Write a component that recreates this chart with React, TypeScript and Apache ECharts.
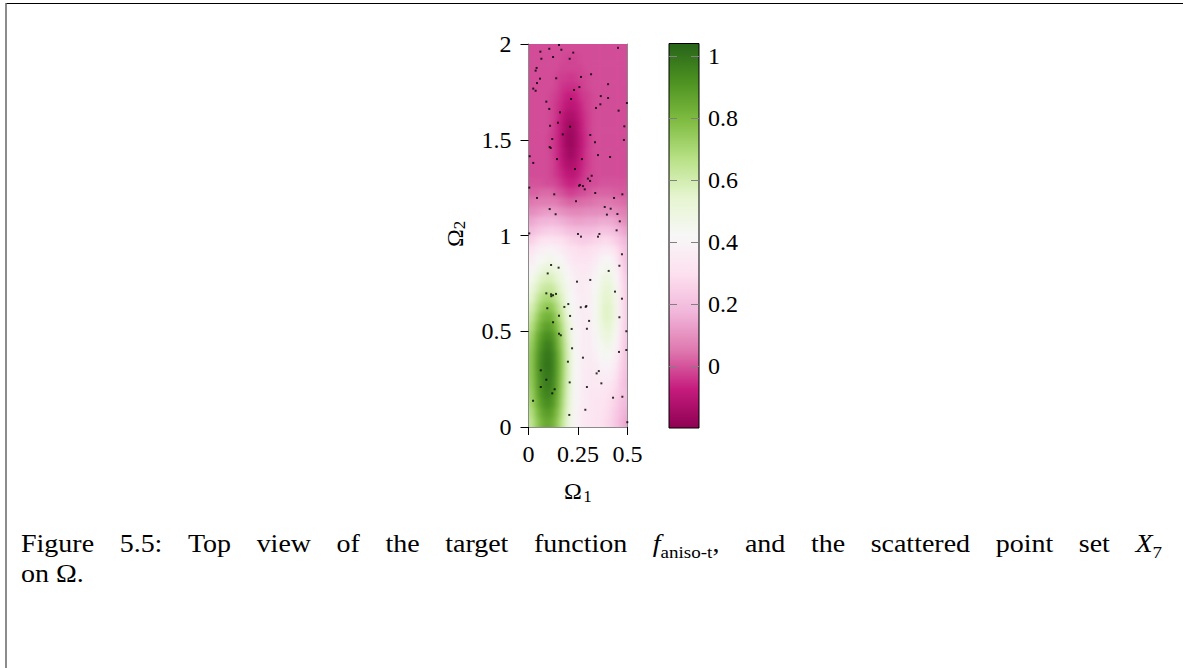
import React, { useEffect, useRef } from "react";
import * as echarts from "echarts";

// Cell centres of the sampled target function on Omega = [0, 0.5] x [0, 2]
const xCenters = [
  0.0125, 0.0375, 0.0625, 0.0875, 0.1125, 0.1375, 0.1625, 0.1875, 0.2125, 0.2375,
  0.2625, 0.2875, 0.3125, 0.3375, 0.3625, 0.3875, 0.4125, 0.4375, 0.4625, 0.4875,
];
const yCenters = [
  1.975, 1.925, 1.875, 1.825, 1.775, 1.725, 1.675, 1.625, 1.575, 1.525,
  1.475, 1.425, 1.375, 1.325, 1.275, 1.225, 1.175, 1.125, 1.075, 1.025,
  0.975, 0.925, 0.875, 0.825, 0.775, 0.725, 0.675, 0.625, 0.575, 0.525,
  0.475, 0.425, 0.375, 0.325, 0.275, 0.225, 0.175, 0.125, 0.075, 0.025,
];

// f_aniso-t values, one row per entry of yCenters (top to bottom)
const fieldRows: number[][] = [
  [-0.01, -0.01, -0.01, -0.01, -0.01, -0.01, -0.01, -0.01, -0.01, -0.01, -0.01, -0.01, -0.01, -0.01, -0.01, -0.01, -0.01, -0.01, -0.01, -0.01],
  [-0.01, -0.01, -0.01, -0.01, -0.01, -0.01, -0.01, -0.02, -0.02, -0.02, -0.01, -0.01, -0.01, -0.01, -0.01, -0.01, -0.01, -0.01, -0.01, -0.01],
  [-0.01, -0.01, -0.01, -0.01, -0.01, -0.01, -0.02, -0.02, -0.02, -0.02, -0.02, -0.01, -0.01, -0.01, -0.01, -0.01, -0.01, -0.01, -0.01, -0.01],
  [-0.01, -0.01, -0.01, -0.01, -0.01, -0.02, -0.03, -0.03, -0.04, -0.03, -0.02, -0.02, -0.01, -0.01, -0.01, -0.01, -0.01, -0.01, -0.01, -0.01],
  [-0.01, -0.01, -0.01, -0.01, -0.01, -0.02, -0.04, -0.05, -0.05, -0.05, -0.03, -0.02, -0.01, -0.01, -0.01, -0.01, -0.01, -0.01, -0.01, -0.01],
  [-0.01, -0.01, -0.01, -0.01, -0.02, -0.03, -0.05, -0.07, -0.08, -0.07, -0.04, -0.03, -0.02, -0.01, -0.01, -0.01, -0.01, -0.01, -0.01, -0.01],
  [-0.01, -0.01, -0.01, -0.01, -0.02, -0.04, -0.06, -0.09, -0.10, -0.09, -0.06, -0.03, -0.02, -0.01, -0.01, -0.01, -0.01, -0.01, -0.01, -0.01],
  [-0.01, -0.01, -0.01, -0.01, -0.02, -0.04, -0.08, -0.12, -0.13, -0.11, -0.07, -0.04, -0.02, -0.01, -0.01, -0.01, -0.01, -0.01, -0.01, -0.01],
  [-0.01, -0.01, -0.01, -0.01, -0.02, -0.05, -0.09, -0.14, -0.16, -0.13, -0.08, -0.04, -0.02, -0.01, -0.01, -0.01, -0.01, -0.01, -0.01, -0.01],
  [-0.01, -0.01, -0.01, -0.01, -0.03, -0.05, -0.10, -0.15, -0.17, -0.14, -0.09, -0.05, -0.02, -0.01, -0.01, -0.01, -0.01, -0.01, -0.01, -0.01],
  [-0.01, -0.01, -0.01, -0.01, -0.03, -0.05, -0.10, -0.15, -0.17, -0.14, -0.09, -0.05, -0.02, -0.01, -0.01, -0.01, -0.01, -0.01, -0.01, -0.01],
  [-0.01, -0.01, -0.01, -0.01, -0.02, -0.05, -0.09, -0.14, -0.16, -0.13, -0.08, -0.04, -0.02, -0.01, -0.01, -0.01, -0.01, -0.01, -0.01, -0.01],
  [-0.01, -0.01, -0.01, -0.01, -0.02, -0.04, -0.08, -0.12, -0.13, -0.11, -0.07, -0.04, -0.02, -0.01, -0.01, -0.01, -0.01, -0.01, -0.01, -0.01],
  [-0.01, -0.01, -0.01, -0.01, -0.02, -0.04, -0.06, -0.09, -0.10, -0.09, -0.06, -0.03, -0.02, -0.01, -0.01, -0.01, -0.01, -0.01, -0.01, -0.01],
  [0.00, 0.00, 0.00, -0.01, -0.01, -0.02, -0.04, -0.06, -0.07, -0.06, -0.04, -0.02, -0.01, -0.01, 0.00, 0.00, 0.00, 0.00, 0.00, 0.00],
  [0.02, 0.02, 0.03, 0.03, 0.03, 0.01, 0.00, -0.02, -0.03, -0.02, -0.01, 0.00, 0.01, 0.02, 0.02, 0.02, 0.02, 0.01, 0.01, 0.01],
  [0.05, 0.06, 0.06, 0.06, 0.06, 0.06, 0.04, 0.03, 0.02, 0.03, 0.03, 0.04, 0.04, 0.05, 0.05, 0.05, 0.05, 0.04, 0.04, 0.03],
  [0.09, 0.10, 0.11, 0.12, 0.12, 0.11, 0.10, 0.09, 0.08, 0.08, 0.08, 0.09, 0.09, 0.09, 0.09, 0.09, 0.09, 0.08, 0.07, 0.06],
  [0.14, 0.16, 0.17, 0.17, 0.18, 0.17, 0.16, 0.15, 0.14, 0.13, 0.13, 0.14, 0.14, 0.14, 0.15, 0.15, 0.15, 0.13, 0.11, 0.09],
  [0.19, 0.21, 0.23, 0.24, 0.25, 0.24, 0.23, 0.21, 0.20, 0.19, 0.19, 0.19, 0.19, 0.20, 0.21, 0.21, 0.20, 0.18, 0.16, 0.13],
  [0.25, 0.28, 0.31, 0.32, 0.32, 0.31, 0.30, 0.28, 0.26, 0.25, 0.24, 0.24, 0.25, 0.26, 0.27, 0.28, 0.27, 0.24, 0.21, 0.17],
  [0.31, 0.35, 0.38, 0.39, 0.40, 0.38, 0.36, 0.33, 0.31, 0.30, 0.29, 0.29, 0.30, 0.31, 0.33, 0.35, 0.34, 0.30, 0.25, 0.20],
  [0.36, 0.40, 0.43, 0.45, 0.46, 0.43, 0.41, 0.37, 0.34, 0.32, 0.32, 0.32, 0.33, 0.35, 0.38, 0.41, 0.40, 0.35, 0.27, 0.20],
  [0.40, 0.45, 0.49, 0.52, 0.52, 0.49, 0.46, 0.41, 0.37, 0.35, 0.34, 0.34, 0.35, 0.39, 0.43, 0.46, 0.45, 0.39, 0.30, 0.21],
  [0.45, 0.51, 0.56, 0.58, 0.58, 0.54, 0.50, 0.44, 0.40, 0.36, 0.35, 0.35, 0.37, 0.41, 0.46, 0.50, 0.49, 0.42, 0.32, 0.23],
  [0.49, 0.56, 0.61, 0.63, 0.63, 0.59, 0.53, 0.47, 0.41, 0.37, 0.35, 0.36, 0.38, 0.42, 0.49, 0.53, 0.52, 0.45, 0.34, 0.24],
  [0.53, 0.61, 0.67, 0.70, 0.69, 0.64, 0.57, 0.49, 0.42, 0.38, 0.36, 0.36, 0.38, 0.44, 0.50, 0.55, 0.54, 0.46, 0.35, 0.24],
  [0.58, 0.66, 0.73, 0.76, 0.76, 0.69, 0.61, 0.52, 0.44, 0.39, 0.36, 0.36, 0.39, 0.44, 0.51, 0.56, 0.55, 0.47, 0.35, 0.24],
  [0.62, 0.71, 0.79, 0.82, 0.82, 0.74, 0.65, 0.55, 0.45, 0.39, 0.37, 0.36, 0.38, 0.44, 0.51, 0.56, 0.55, 0.47, 0.35, 0.24],
  [0.66, 0.76, 0.84, 0.88, 0.87, 0.79, 0.69, 0.57, 0.47, 0.40, 0.37, 0.36, 0.38, 0.43, 0.49, 0.54, 0.53, 0.45, 0.34, 0.24],
  [0.70, 0.81, 0.89, 0.93, 0.92, 0.84, 0.72, 0.59, 0.48, 0.41, 0.37, 0.36, 0.37, 0.41, 0.47, 0.51, 0.50, 0.43, 0.32, 0.23],
  [0.73, 0.84, 0.92, 0.97, 0.96, 0.86, 0.74, 0.61, 0.49, 0.41, 0.37, 0.36, 0.37, 0.40, 0.44, 0.47, 0.46, 0.40, 0.31, 0.22],
  [0.75, 0.86, 0.95, 0.99, 0.98, 0.89, 0.76, 0.62, 0.50, 0.42, 0.37, 0.36, 0.36, 0.38, 0.41, 0.44, 0.43, 0.37, 0.29, 0.21],
  [0.75, 0.87, 0.96, 1.00, 0.99, 0.89, 0.77, 0.62, 0.50, 0.42, 0.37, 0.36, 0.35, 0.36, 0.39, 0.40, 0.39, 0.35, 0.27, 0.21],
  [0.75, 0.86, 0.95, 0.99, 0.98, 0.89, 0.76, 0.62, 0.50, 0.42, 0.37, 0.35, 0.34, 0.35, 0.36, 0.37, 0.36, 0.32, 0.25, 0.20],
  [0.74, 0.85, 0.94, 0.98, 0.97, 0.88, 0.75, 0.61, 0.49, 0.41, 0.37, 0.35, 0.34, 0.34, 0.34, 0.34, 0.33, 0.29, 0.23, 0.19],
  [0.72, 0.83, 0.92, 0.96, 0.95, 0.86, 0.74, 0.60, 0.49, 0.41, 0.37, 0.35, 0.33, 0.33, 0.33, 0.32, 0.30, 0.27, 0.23, 0.20],
  [0.70, 0.81, 0.89, 0.93, 0.92, 0.84, 0.72, 0.59, 0.48, 0.41, 0.37, 0.35, 0.33, 0.32, 0.32, 0.30, 0.28, 0.25, 0.21, 0.18],
  [0.67, 0.77, 0.85, 0.89, 0.88, 0.80, 0.70, 0.57, 0.47, 0.40, 0.36, 0.34, 0.33, 0.32, 0.31, 0.29, 0.27, 0.23, 0.20, 0.16],
  [0.64, 0.74, 0.81, 0.85, 0.84, 0.77, 0.67, 0.56, 0.46, 0.40, 0.36, 0.34, 0.33, 0.31, 0.31, 0.28, 0.26, 0.22, 0.18, 0.14],
];

// Scattered point set X_7 as [Omega_1, Omega_2]
const pointSet: [number, number][] = [
  [0.154, 1.995], [0.060, 1.960], [0.105, 1.975], [0.166, 1.970], [0.226, 1.955], [0.452, 1.980],
  [0.065, 1.923], [0.124, 1.932], [0.208, 1.923], [0.041, 1.875], [0.036, 1.861], [0.058, 1.819],
  [0.140, 1.821], [0.043, 1.796], [0.265, 1.828], [0.316, 1.842], [0.402, 1.790], [0.024, 1.767],
  [0.036, 1.756], [0.230, 1.760], [0.257, 1.775], [0.365, 1.728], [0.402, 1.718], [0.215, 1.713],
  [0.090, 1.699], [0.497, 1.692], [0.363, 1.685], [0.105, 1.661], [0.341, 1.666], [0.455, 1.652],
  [0.159, 1.643], [0.109, 1.573], [0.149, 1.589], [0.210, 1.568], [0.484, 1.570], [0.173, 1.528],
  [0.312, 1.525], [0.120, 1.504], [0.336, 1.487], [0.482, 1.499], [0.107, 1.462], [0.112, 1.457],
  [0.006, 1.414], [0.144, 1.399], [0.270, 1.399], [0.351, 1.420], [0.412, 1.410], [0.024, 1.379],
  [0.235, 1.347], [0.319, 1.312], [0.300, 1.297], [0.311, 1.285], [0.255, 1.260], [0.260, 1.264],
  [0.275, 1.258], [0.284, 1.241], [0.004, 1.250], [0.130, 1.215], [0.337, 1.222], [0.474, 1.215],
  [0.043, 1.196], [0.432, 1.196], [0.240, 1.179], [0.107, 1.138], [0.385, 1.149], [0.415, 1.140],
  [0.137, 1.111], [0.396, 1.109], [0.449, 1.112], [0.461, 1.074], [0.445, 1.027], [0.004, 1.011],
  [0.250, 1.008], [0.358, 1.008], [0.265, 0.994], [0.351, 0.994], [0.472, 0.902], [0.114, 0.846],
  [0.152, 0.832], [0.459, 0.842], [0.405, 0.815], [0.097, 0.802], [0.312, 0.768], [0.245, 0.759],
  [0.437, 0.707], [0.090, 0.698], [0.114, 0.693], [0.124, 0.688], [0.139, 0.695], [0.115, 0.683],
  [0.472, 0.670], [0.201, 0.642], [0.181, 0.627], [0.292, 0.632], [0.289, 0.627], [0.264, 0.625],
  [0.095, 0.620], [0.154, 0.581], [0.210, 0.580], [0.459, 0.573], [0.124, 0.547], [0.306, 0.554],
  [0.218, 0.512], [0.295, 0.513], [0.494, 0.500], [0.154, 0.487], [0.163, 0.479], [0.220, 0.411],
  [0.457, 0.392], [0.494, 0.402], [0.275, 0.362], [0.199, 0.341], [0.062, 0.296], [0.355, 0.292],
  [0.344, 0.280], [0.090, 0.247], [0.208, 0.233], [0.368, 0.228], [0.062, 0.209], [0.295, 0.209],
  [0.132, 0.197], [0.120, 0.176], [0.474, 0.158], [0.427, 0.153], [0.023, 0.137], [0.287, 0.090],
  [0.206, 0.063], [0.499, 0.025],
];

const xTickValues = [0, 0.25, 0.5];
const yTickValues = [0, 0.5, 1, 1.5, 2];
const colorbarTickValues = [0, 0.2, 0.4, 0.6, 0.8, 1];
const valueRange = [-0.2, 1.04];
const xRange = [0, 0.5];
const yRange = [0, 2];

// PiYG diverging palette, low to high
const piyg = [
  "#8e0152", "#c51b7d", "#de77ae", "#f1b6da", "#fde0ef", "#f7f7f7",
  "#e6f5d0", "#b8e186", "#7fbc41", "#4d9221", "#276419",
];

// plot rectangle on the page
const PLOT = { left: 528.5, top: 44, width: 99, height: 383 };
const BLEED = 12;

const serif = '"Liberation Serif", "Times New Roman", serif';

type Seg = { text: string; italic?: boolean; sub?: boolean };
const captionLine1: Seg[][] = [
  [{ text: "Figure" }], [{ text: "5.5:" }], [{ text: "Top" }], [{ text: "view" }],
  [{ text: "of" }], [{ text: "the" }], [{ text: "target" }], [{ text: "function" }],
  [{ text: "f", italic: true }, { text: "aniso-t", sub: true }, { text: "," }],
  [{ text: "and" }], [{ text: "the" }], [{ text: "scattered" }], [{ text: "point" }],
  [{ text: "set" }], [{ text: "X", italic: true }, { text: "7", sub: true }],
];
const captionLine2 = "on Ω.";

const MAIN = 25;
const SUB = 17;
const GLYPH_STRETCH = 1.12;

function buildCaption(): any[] {
  const canvas = document.createElement("canvas");
  const ctx = canvas.getContext("2d")!;
  const fontOf = (s: Seg) =>
    `${s.italic ? "italic " : ""}${s.sub ? SUB : MAIN}px ${serif}`;
  const widthOf = (s: Seg) => {
    ctx.font = fontOf(s);
    return ctx.measureText(s.text).width;
  };
  const left = 21;
  const right = 1162;
  const nGaps = captionLine1.length - 1;
  const wordWidths = captionLine1.map((w) => w.reduce((a, s) => a + widthOf(s), 0));
  const total = wordWidths.reduce((a, b) => a + b, 0);
  const sx = Math.min(GLYPH_STRETCH, (right - left) / (total + nGaps * 0.27 * MAIN));
  // justified line: the remaining room goes into the word spaces
  const gap = (right - left - total * sx) / nGaps;
  const baseline1 = 552;
  const els: any[] = [];
  let x = left;
  const textEl = (text: string, font: string, px: number, py: number) => ({
    type: "text",
    x: px,
    y: py,
    scaleX: sx,
    style: {
      text,
      font,
      fill: "#000",
      textAlign: "left",
      align: "left",
      textVerticalAlign: "middle",
      verticalAlign: "middle",
    },
  });
  captionLine1.forEach((word, wi) => {
    word.forEach((s) => {
      const size = s.sub ? SUB : MAIN;
      const base = s.sub ? baseline1 + 6 : baseline1;
      els.push(textEl(s.text, fontOf(s), x, base - 0.34 * size));
      x += widthOf(s) * sx;
    });
    if (wi < nGaps) x += gap;
  });
  els.push(textEl(captionLine2, `${MAIN}px ${serif}`, left, baseline1 + 30 - 0.34 * MAIN));
  return els;
}

function label(text: string, x: number, y: number, size: number) {
  return {
    type: "text",
    x,
    y,
    style: {
      text,
      font: `${size}px ${serif}`,
      fill: "#000",
      textAlign: "center",
      align: "center",
      textVerticalAlign: "middle",
      verticalAlign: "middle",
    },
  };
}

export default function App() {
  const heatRef = useRef<HTMLDivElement>(null);
  const mainRef = useRef<HTMLDivElement>(null);

  // shaded top view of the function
  useEffect(() => {
    if (!heatRef.current) return;
    const chart = echarts.init(heatRef.current, undefined, { renderer: "svg" });
    const cellW = xCenters[1] - xCenters[0];
    const cellH = yCenters[0] - yCenters[1];
    const cells: number[][] = [];
    yCenters.forEach((y, i) =>
      xCenters.forEach((x, j) => cells.push([x, y, fieldRows[i][j], i, j]))
    );
    const lastRow = yCenters.length - 1;
    const lastCol = xCenters.length - 1;
    chart.setOption({
      animation: false,
      grid: { left: BLEED, top: BLEED, width: PLOT.width, height: PLOT.height },
      xAxis: { type: "value", min: xRange[0], max: xRange[1], show: false },
      yAxis: { type: "value", min: yRange[0], max: yRange[1], show: false },
      visualMap: {
        type: "continuous",
        show: false,
        min: valueRange[0],
        max: valueRange[1],
        dimension: 2,
        inRange: { color: piyg },
      },
      series: [
        {
          type: "custom",
          clip: false,
          dimensions: ["x", "y", "f", "row", "col"],
          encode: { x: 0, y: 1 },
          data: cells,
          renderItem: (_p: any, api: any) => {
            const x = api.value(0);
            const y = api.value(1);
            const row = api.value(3);
            const col = api.value(4);
            const p0 = api.coord([x - cellW / 2, y + cellH / 2]);
            const p1 = api.coord([x + cellW / 2, y - cellH / 2]);
            // outer cells run on past the frame so the soft shading keeps full colour at the edges
            const l = p0[0] - (col === 0 ? BLEED : 0);
            const r = p1[0] + (col === lastCol ? BLEED : 0.6);
            const t = p0[1] - (row === 0 ? BLEED : 0);
            const b = p1[1] + (row === lastRow ? BLEED : 0.6);
            return {
              type: "rect",
              shape: { x: l, y: t, width: r - l, height: b - t },
              style: { fill: api.visual("color") },
            };
          },
        },
      ],
    });
    return () => chart.dispose();
  }, []);

  // axes, colour bar, point set and caption
  useEffect(() => {
    if (!mainRef.current) return;
    const chart = echarts.init(mainRef.current, undefined, { renderer: "svg" });

    const tickFont = { fontFamily: serif, fontSize: 24, color: "#000" };
    const frameLine = { show: true, lineStyle: { color: "#8a8a8a", width: 1 } };

    const option: any = {
      animation: false,
      grid: [
        { left: PLOT.left, top: PLOT.top, width: PLOT.width, height: PLOT.height },
        {
          left: 669,
          top: 43.5,
          width: 30,
          height: 384.5,
          show: true,
          borderColor: "#000",
          borderWidth: 1,
          backgroundColor: new echarts.graphic.LinearGradient(
            0, 1, 0, 0,
            piyg.map((c, i) => ({ offset: i / (piyg.length - 1), color: c }))
          ),
        },
      ],
      xAxis: [
        {
          gridIndex: 0,
          type: "value",
          min: xRange[0],
          max: xRange[1],
          interval: 0.25,
          axisLine: frameLine,
          axisTick: { show: true, length: 8, lineStyle: { color: "#000" }, customValues: xTickValues },
          axisLabel: { ...tickFont, margin: 15, customValues: xTickValues, formatter: (v: number) => String(v) },
          splitLine: { show: false },
        },
        { gridIndex: 1, type: "value", min: 0, max: 1, show: false },
      ],
      yAxis: [
        {
          gridIndex: 0,
          type: "value",
          min: yRange[0],
          max: yRange[1],
          interval: 0.5,
          axisLine: frameLine,
          axisTick: { show: true, length: 8, lineStyle: { color: "#000" }, customValues: yTickValues },
          axisLabel: { ...tickFont, margin: 17, customValues: yTickValues, formatter: (v: number) => String(v) },
          splitLine: { show: false },
        },
        {
          gridIndex: 0,
          type: "value",
          position: "right",
          min: yRange[0],
          max: yRange[1],
          axisLine: frameLine,
          axisTick: { show: false },
          axisLabel: { show: false },
          splitLine: { show: false },
        },
        {
          gridIndex: 1,
          type: "value",
          position: "left",
          min: valueRange[0],
          max: valueRange[1],
          axisLine: { show: false },
          axisTick: { show: true, inside: true, length: 8, lineStyle: { color: "#808080" }, customValues: colorbarTickValues },
          axisLabel: { show: false },
          splitLine: { show: false },
        },
        {
          gridIndex: 1,
          type: "value",
          position: "right",
          min: valueRange[0],
          max: valueRange[1],
          axisLine: { show: false },
          axisTick: { show: true, inside: true, length: 8, lineStyle: { color: "#808080" }, customValues: colorbarTickValues },
          axisLabel: { ...tickFont, margin: 9, customValues: colorbarTickValues, formatter: (v: number) => String(v) },
          splitLine: { show: false },
        },
      ],
      series: [
        {
          type: "scatter",
          xAxisIndex: 0,
          yAxisIndex: 0,
          z: 4,
          symbol: "rect",
          symbolSize: 2,
          itemStyle: { color: "#000" },
          data: pointSet,
        },
      ],
      graphic: [
        // page frame
        { type: "line", shape: { x1: 6, y1: 3.5, x2: 1183, y2: 3.5 }, style: { stroke: "#000", lineWidth: 1.2 } },
        { type: "line", shape: { x1: 6, y1: 3, x2: 6, y2: 668 }, style: { stroke: "#666", lineWidth: 1.5 } },
        // axis names
        {
          type: "group",
          x: 455,
          y: 236,
          rotation: Math.PI / 2,
          children: [label("Ω", -2, 0, 24), label("2", 11, 4, 17)],
        },
        label("Ω", 573, 491, 24),
        label("1", 587.5, 496, 17),
        ...buildCaption(),
      ],
    };

    chart.setOption(option);
    return () => chart.dispose();
  }, []);

  return (
    <div style={{ position: "absolute", left: 0, top: 0, width: 1183, height: 668, background: "#fff" }}>
      <div
        style={{
          position: "absolute",
          left: PLOT.left,
          top: PLOT.top,
          width: PLOT.width,
          height: PLOT.height,
          overflow: "hidden",
        }}
      >
        <div
          ref={heatRef}
          style={{
            position: "absolute",
            left: -BLEED,
            top: -BLEED,
            width: PLOT.width + 2 * BLEED,
            height: PLOT.height + 2 * BLEED,
            filter: "blur(2.5px)",
          }}
        />
      </div>
      <div ref={mainRef} style={{ position: "absolute", left: 0, top: 0, width: 1183, height: 668 }} />
    </div>
  );
}
